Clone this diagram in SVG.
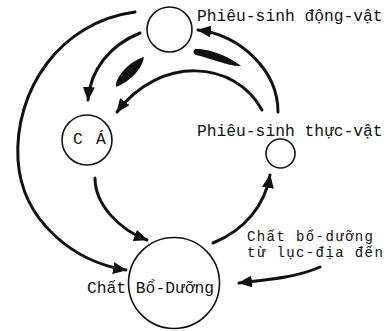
<svg xmlns="http://www.w3.org/2000/svg" width="390" height="331" viewBox="0 0 390 331">
<style>
.node{fill:none;stroke:#111;stroke-width:1.6}
.lbl{font-family:"Liberation Mono","Courier New",monospace;font-size:16.3px;fill:#111}
.sm{font-size:14px;letter-spacing:1.4px}
.arc{fill:none;stroke:#111;stroke-width:3;stroke-linecap:round}
.blob{fill:#111}
</style>
<defs>
<marker id="ah" viewBox="0 0 14 12" refX="13" refY="6" markerWidth="14" markerHeight="12" markerUnits="userSpaceOnUse" orient="auto">
<path d="M0,0 L14,6 L0,12 z" fill="#111"/>
</marker>
</defs>
<rect width="390" height="331" fill="#fff"/>
<g id="connectors">
<path class="arc" d="M135,12 C60,22 14,90 18,160 C22,222 75,262 126,270" marker-end="url(#ah)"/>
<path class="arc" d="M140,33 C110,45 90,70 88,100" marker-end="url(#ah)"/>
<path class="arc" d="M262,110 C235,60 160,55 117,112" marker-end="url(#ah)"/>
<path class="arc" d="M278,112 C278,70 240,35 198,30" marker-end="url(#ah)"/>
<path class="arc" d="M95,178 C95,205 120,230 147,240" marker-end="url(#ah)"/>
<path class="arc" d="M213,243 C245,230 265,205 270,175" marker-end="url(#ah)"/>
<path class="arc" d="M320,267 C295,278 265,280 239,283" marker-end="url(#ah)"/>
<path class="blob" d="M144,57 C142,69 131,81 116,87 C114,80 127,62 144,57 z"/>
<path class="blob" d="M195,49 C210,48 232,58 241,66 C230,67 210,58 196,55 C193,54 193,50 195,49 z"/>
</g>
<g id="zooplankton">
<circle class="node" cx="169.5" cy="29.5" r="22.5" stroke-width="2"/>
<text class="lbl" x="197" y="21">Phiêu-sinh động-vật</text>
</g>
<g id="ca">
<circle class="node" cx="87" cy="140" r="25"/>
<text class="lbl" x="73 83 96" y="144">C Á</text>
</g>
<g id="phytoplankton">
<circle class="node" cx="280.5" cy="153.5" r="14.5"/>
<text class="lbl" x="197" y="136">Phiêu-sinh thực-vật</text>
</g>
<g id="nutrients">
<circle class="node" cx="174" cy="283" r="45.5"/>
<text class="lbl" x="87" y="293">Chất Bổ-Dưỡng</text>
</g>
<g id="land-input">
<text class="lbl sm" x="247" y="241">Chất bổ-dưỡng</text>
<text class="lbl sm" x="247" y="257">từ lục-địa đến</text>
</g>
</svg>
